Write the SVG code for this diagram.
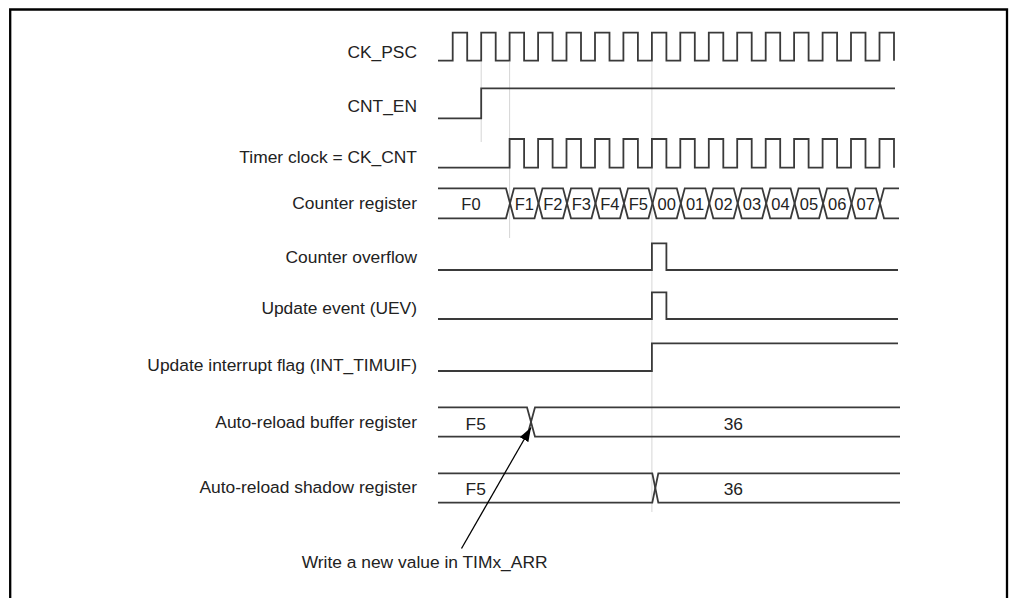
<svg xmlns="http://www.w3.org/2000/svg" width="1016" height="598" viewBox="0 0 1016 598">
<style>
.lbl{font-family:"Liberation Sans",Arial,sans-serif;font-size:17.4px;fill:#222;text-anchor:end}
.val{font-family:"Liberation Sans",Arial,sans-serif;font-size:16.5px;fill:#222;text-anchor:middle}
.val2{font-family:"Liberation Sans",Arial,sans-serif;font-size:17.4px;fill:#222;text-anchor:middle}
.note{font-family:"Liberation Sans",Arial,sans-serif;font-size:17.4px;fill:#222}
.wave{fill:none;stroke:#3a3a3a;stroke-width:1.8;stroke-linejoin:miter}
.guide{stroke:#d6d6d6;stroke-width:1;fill:none}
</style>
<defs>
<marker id="ah" markerUnits="userSpaceOnUse" markerWidth="14" markerHeight="10" refX="14" refY="5" orient="auto">
<path d="M0,0 L14,5 L0,10 z" fill="#000"/>
</marker>
</defs>
<rect width="1016" height="598" fill="#fff"/>
<path d="M10.2,598 V9.5 H1007 V598" fill="none" stroke="#000" stroke-width="2.3"/>
<g id="guides">
<line class="guide" x1="481.2" y1="62" x2="481.2" y2="142"/>
<line class="guide" x1="509.6" y1="62" x2="509.6" y2="238"/>
<line class="guide" x1="651.9" y1="62" x2="651.9" y2="512"/>
</g>
<g id="ck_psc">
<text class="lbl" x="417" y="58.3">CK_PSC</text>
<path class="wave" d="M438,60.7 H452.7 V32.7 H467.2 V60.7 H481.2 V32.7 H495.7 V60.7 H509.6 V32.7 H524.1 V60.7 H538.1 V32.7 H552.6 V60.7 H566.5 V32.7 H581 V60.7 H595 V32.7 H609.5 V60.7 H623.4 V32.7 H637.9 V60.7 H651.9 V32.7 H666.4 V60.7 H680.3 V32.7 H694.8 V60.7 H708.8 V32.7 H723.3 V60.7 H737.2 V32.7 H751.7 V60.7 H765.7 V32.7 H780.2 V60.7 H794.1 V32.7 H808.6 V60.7 H822.6 V32.7 H837.1 V60.7 H851 V32.7 H865.5 V60.7 H879.5 V32.7 H894 V60.7"/>
</g>
<g id="cnt_en">
<text class="lbl" x="417" y="112.3">CNT_EN</text>
<path class="wave" d="M438,118.3 H481.2 V88.3 H895"/>
</g>
<g id="ck_cnt">
<text class="lbl" x="417" y="162.7">Timer clock = CK_CNT</text>
<path class="wave" d="M438,167.7 H509.6 V139 H524.1 V167.7 H538.1 V139 H552.6 V167.7 H566.5 V139 H581 V167.7 H595 V139 H609.5 V167.7 H623.4 V139 H637.9 V167.7 H651.9 V139 H666.4 V167.7 H680.3 V139 H694.8 V167.7 H708.8 V139 H723.3 V167.7 H737.2 V139 H751.7 V167.7 H765.7 V139 H780.2 V167.7 H794.1 V139 H808.6 V167.7 H822.6 V139 H837.1 V167.7 H851 V139 H865.5 V167.7 H879.5 V139 H894 V167.7"/>
</g>
<g id="counter">
<text class="lbl" x="417" y="209.3">Counter register</text>
<path class="wave" d="M438,188.3 H506 L514,218.3 H534.5 L542.5,188.3 H563 L571,218.3 H591.5 L599.5,188.3 H620 L628,218.3 H648.5 L656.5,188.3 H676.8 L684.8,218.3 H705.3 L713.3,188.3 H733.7 L741.7,218.3 H762.2 L770.2,188.3 H790.6 L798.6,218.3 H819.1 L827.1,188.3 H847.5 L855.5,218.3 H876 L884,188.3 H899"/>
<path class="wave" d="M438,218.3 H506 L514,188.3 H534.5 L542.5,218.3 H563 L571,188.3 H591.5 L599.5,218.3 H620 L628,188.3 H648.5 L656.5,218.3 H676.8 L684.8,188.3 H705.3 L713.3,218.3 H733.7 L741.7,188.3 H762.2 L770.2,218.3 H790.6 L798.6,188.3 H819.1 L827.1,218.3 H847.5 L855.5,188.3 H876 L884,218.3 H899"/>
<text class="val" x="471" y="210">F0</text>
<text class="val" x="524.3" y="210">F1</text>
<text class="val" x="552.8" y="210">F2</text>
<text class="val" x="581.3" y="210">F3</text>
<text class="val" x="609.8" y="210">F4</text>
<text class="val" x="638.3" y="210">F5</text>
<text class="val" x="666.7" y="210">00</text>
<text class="val" x="695.1" y="210">01</text>
<text class="val" x="723.5" y="210">02</text>
<text class="val" x="752" y="210">03</text>
<text class="val" x="780.4" y="210">04</text>
<text class="val" x="808.9" y="210">05</text>
<text class="val" x="837.3" y="210">06</text>
<text class="val" x="865.8" y="210">07</text>
</g>
<g id="overflow">
<text class="lbl" x="417" y="263.3">Counter overflow</text>
<path class="wave" d="M438,270 H651.9 V243.3 H666.4 V270 H898"/>
</g>
<g id="uev">
<text class="lbl" x="417" y="314">Update event (UEV)</text>
<path class="wave" d="M438,319 H651.9 V292.3 H666.4 V319 H898"/>
</g>
<g id="uif">
<text class="lbl" x="417" y="370.7">Update interrupt flag (INT_TIMUIF)</text>
<path class="wave" d="M438,371 H651.9 V343.3 H898"/>
</g>
<g id="arr_buffer">
<text class="lbl" x="417" y="428.3">Auto-reload buffer register</text>
<path class="wave" d="M438,407.3 H527 L535,436.7 H900"/>
<path class="wave" d="M438,436.7 H527 L535,407.3 H900"/>
<text class="val2" x="475.7" y="430">F5</text>
<text class="val2" x="733.3" y="430">36</text>
</g>
<g id="arr_shadow">
<text class="lbl" x="417" y="493.3">Auto-reload shadow register</text>
<path class="wave" d="M438,473.3 H652.3 L658.3,502.7 H900"/>
<path class="wave" d="M438,502.7 H652.3 L658.3,473.3 H900"/>
<text class="val2" x="475.7" y="495">F5</text>
<text class="val2" x="733.3" y="495">36</text>
</g>
<g id="connectors">
<line x1="461.5" y1="548.5" x2="531" y2="427.5" stroke="#000" stroke-width="1.3" marker-end="url(#ah)"/>
</g>
<g id="note">
<text class="note" x="301.7" y="568.3">Write a new value in TIMx_ARR</text>
</g>
</svg>
